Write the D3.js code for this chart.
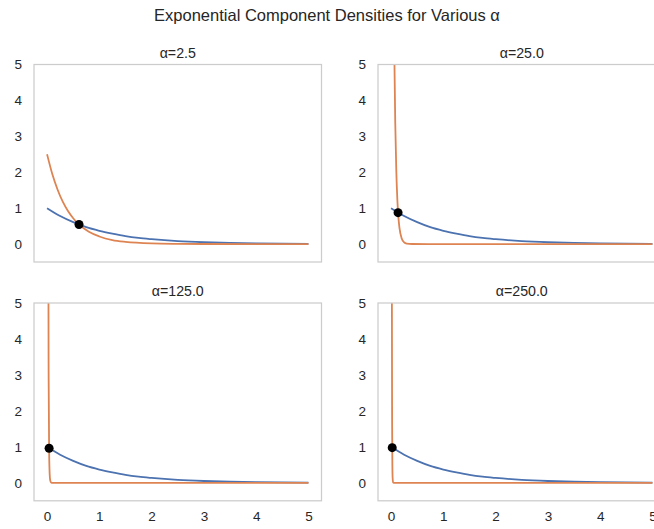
<!DOCTYPE html>
<html>
<head>
<meta charset="utf-8">
<script src="https://cdn.jsdelivr.net/npm/d3@7"></script>
<style>
html,body{margin:0;padding:0;background:#fff;overflow:hidden;}
svg{display:block;font-family:"Liberation Sans",Arial,sans-serif;}
</style>
</head>
<body>
<svg id="chart" width="654" height="529"></svg>
<script>
// ---- data ----
const alphas = [2.5, 25.0, 125.0, 250.0];
const xTicks = [0, 1, 2, 3, 4, 5];
const yTicks = [0, 1, 2, 3, 4, 5];

// blue: base density (same in all panels)
const baseX = [0, 0.25, 0.5, 0.75, 1, 1.25, 1.5, 1.75, 2, 2.5, 3, 3.5, 4, 4.5, 5];
const baseY = [1, 0.78, 0.61, 0.47, 0.37, 0.29, 0.22, 0.17, 0.135, 0.082, 0.05, 0.03, 0.018, 0.011, 0.007];

// orange: component density, one per panel
const compX = [
  [0, 0.1, 0.2, 0.3, 0.4, 0.5, 0.6, 0.8, 1.0, 1.25, 1.5, 2, 2.5, 3, 4, 5],
  [0, 0.02, 0.04, 0.06, 0.08, 0.1, 0.12, 0.14, 0.16, 0.2, 0.25, 0.3, 0.4, 1, 5],
  [0, 0.01, 0.02, 0.03, 0.04, 0.05, 0.06, 0.08, 0.1, 1, 5],
  [0, 0.005, 0.01, 0.015, 0.02, 0.025, 0.03, 0.04, 0.05, 1, 5]
];
const compY = [
  [2.5, 1.95, 1.52, 1.18, 0.92, 0.72, 0.56, 0.34, 0.21, 0.11, 0.06, 0.017, 0.005, 0.001, 0, 0],
  [25, 15.2, 9.2, 5.58, 3.38, 2.05, 1.24, 0.75, 0.46, 0.17, 0.048, 0.014, 0.001, 0, 0],
  [125, 35.8, 10.26, 2.94, 0.84, 0.24, 0.069, 0.006, 0, 0, 0],
  [250, 71.6, 20.5, 5.87, 1.68, 0.48, 0.14, 0.011, 0.001, 0, 0]
];

// black dots: crossing points
const crossX = [0.611, 0.134, 0.039, 0.022];
const crossY = [0.543, 0.874, 0.962, 0.978];

// ---- layout ----
const svg = d3.select("#chart");
const panels = [
  {x0: 34,  x1: 321.5, y0: 64.5, y1: 262},
  {x0: 378, x1: 665.5, y0: 64.5, y1: 262},
  {x0: 34,  x1: 321.5, y0: 303,  y1: 500.8},
  {x0: 378, x1: 665.5, y0: 303,  y1: 500.8}
];
const textColor = "#262626";
const spineColor = "#cccccc";
const blue = "#4c72b0", orange = "#dd8452";

svg.append("text")
  .attr("x", 327).attr("y", 20.5)
  .attr("text-anchor", "middle")
  .attr("font-size", 16.5)
  .attr("fill", textColor)
  .text("Exponential Component Densities for Various α");

alphas.forEach((a, i) => {
  const p = panels[i];
  const x = d3.scaleLinear().domain([-0.25, 5.25]).range([p.x0, p.x1]);
  const y = d3.scaleLinear().domain([-0.5, 5]).range([p.y1, p.y0]);
  const g = svg.append("g");

  const clipId = "clip" + i;
  svg.append("clipPath").attr("id", clipId)
    .append("rect").attr("x", p.x0).attr("y", p.y0)
    .attr("width", p.x1 - p.x0).attr("height", p.y1 - p.y0);

  // y axis
  const ya = g.append("g").attr("transform", `translate(${p.x0},0)`)
    .call(d3.axisLeft(y).tickValues(yTicks).tickSize(0).tickPadding(12).tickFormat(d3.format("d")));
  ya.select(".domain").remove();
  ya.selectAll("text").attr("font-size", 13.5).attr("fill", textColor)
    .attr("font-family", "Liberation Sans, Arial, sans-serif");

  // x axis only on bottom row
  if (i >= 2) {
    const xa = g.append("g").attr("transform", `translate(0,${p.y1})`)
      .call(d3.axisBottom(x).tickValues(xTicks).tickSize(0).tickPadding(11).tickFormat(d3.format("d")));
    xa.select(".domain").remove();
    xa.selectAll("text").attr("font-size", 13.5).attr("fill", textColor)
      .attr("font-family", "Liberation Sans, Arial, sans-serif");
  }

  const plot = g.append("g").attr("clip-path", `url(#${clipId})`);
  const line = d3.line().x(d => x(d[0])).y(d => y(d[1])).curve(d3.curveMonotoneX);

  plot.append("path")
    .datum(baseX.map((v, k) => [v, baseY[k]]))
    .attr("d", line).attr("fill", "none")
    .attr("stroke", blue).attr("stroke-width", 1.8);

  plot.append("path")
    .datum(compX[i].map((v, k) => [v, compY[i][k]]))
    .attr("d", line).attr("fill", "none")
    .attr("stroke", orange).attr("stroke-width", 1.8);

  plot.append("circle")
    .attr("cx", x(crossX[i])).attr("cy", y(crossY[i]))
    .attr("r", 4.5).attr("fill", "#000");

  // frame
  g.append("rect")
    .attr("x", p.x0).attr("y", p.y0)
    .attr("width", p.x1 - p.x0).attr("height", p.y1 - p.y0)
    .attr("fill", "none").attr("stroke", spineColor).attr("stroke-width", 1.25);

  // subplot title
  g.append("text")
    .attr("x", (p.x0 + p.x1) / 2).attr("y", p.y0 - 7)
    .attr("text-anchor", "middle")
    .attr("font-size", 14.2)
    .attr("fill", textColor)
    .text("α=" + a.toFixed(1));
});
</script>
</body>
</html>
